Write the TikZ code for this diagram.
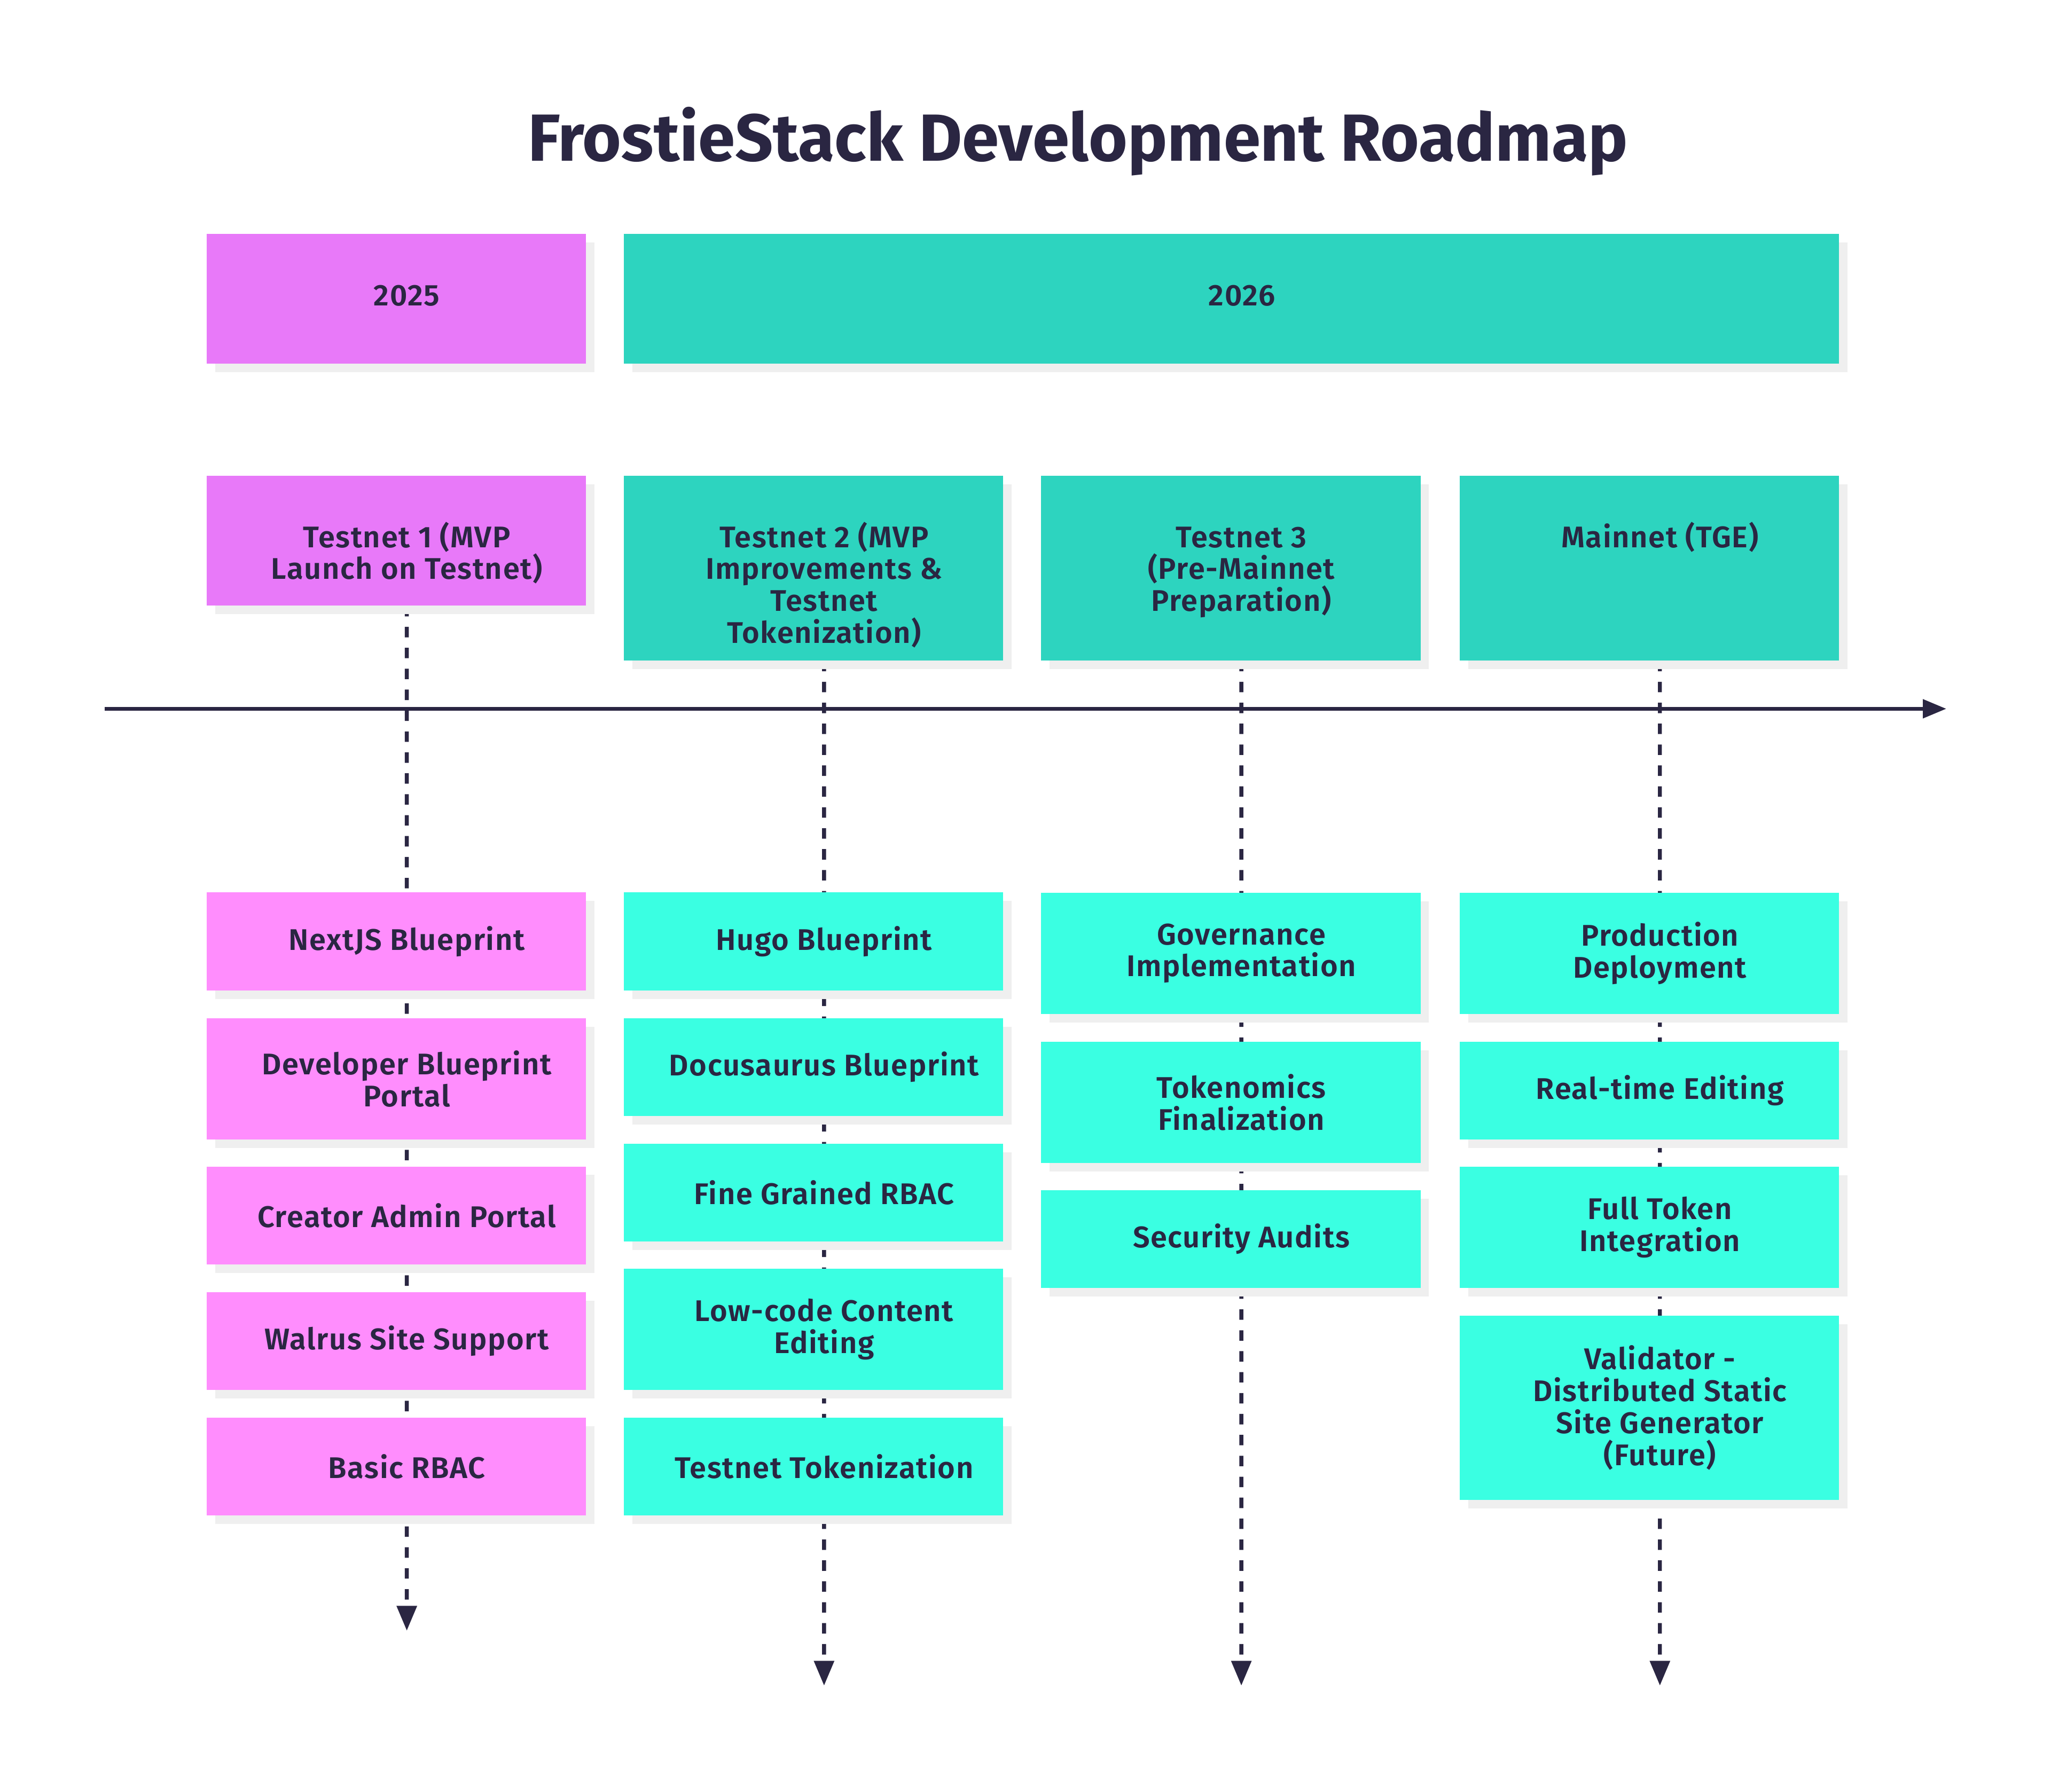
\documentclass[tikz,border=0pt]{standalone}
\usepackage{fontspec}
\setmainfont{Fira Sans}[BoldFont={Fira Sans SemiBold}]
\newfontfamily\titlefont{Fira Sans}[UprightFont={* Bold}]
\usepackage{tikz}
\usetikzlibrary{shapes,arrows.meta,backgrounds,%
positioning,calc,shadows%
}

\definecolor{ink}{HTML}{2A2642}
\definecolor{yearpink}{HTML}{E879F9}
\definecolor{yearteal}{HTML}{2DD4BF}
\definecolor{evpink}{HTML}{FF8DFD}
\definecolor{evcyan}{HTML}{3AFFE2}
\definecolor{shade}{HTML}{EFEFEF}

\tikzset{
  box/.style={rectangle,inner sep=0pt,minimum width=5.8cm,
    general shadow={fill=shade,shadow xshift=0.13cm,shadow yshift=-0.13cm}},
  txt/.style={font=\bfseries\addfontfeatures{LetterSpace=3}\fontsize{13}{13.9}\selectfont,
    text=ink,align=center,inner sep=0pt},
  mid/.style={txt,xshift=0.16cm},
  yr/.style={txt,xshift=0.16cm,yshift=0.05cm},
  head/.style={txt,anchor=north,xshift=0.16cm,yshift=-0.7cm},
  tline/.style={ink,line width=0.06cm,dash pattern=on 0.16cm off 0.16cm,
    -{Triangle[length=0.38cm,width=0.3cm]}},
  axisline/.style={ink,line width=0.06cm,-{Triangle[length=0.36cm,width=0.28cm]}}
}

\begin{document}
\begin{tikzpicture}[x=0.02cm,y=-0.02cm]
  \useasboundingbox (0,0) rectangle (1568,1370);
  \node[font=\titlefont\fontsize{29}{34}\selectfont,text=ink] (title) at (824,108)
  {FrostieStack Development Roadmap};

  % years
  \node[box,fill=yearpink,minimum height=1.98cm,label={[yr]center:2025}]
  (y25) at (303,228.5) {};
  \node[box,fill=yearteal,minimum width=18.58cm,minimum height=1.98cm,label={[yr]center:2026}]
  (y26) at (941.5,228.5) {};

  % periods
  \node[box,fill=yearpink,minimum height=1.98cm,
  label={[head]north:Testnet 1 (MVP\\Launch on Testnet)}] (p1) at (303,413.5) {};
  \node[box,fill=yearteal,minimum height=2.82cm,
  label={[head]north:Testnet 2 (MVP\\Improvements \&\\Testnet\\Tokenization)}] (p2) at (622,434.5) {};
  \node[box,fill=yearteal,minimum height=2.82cm,
  label={[head]north:Testnet 3\vphantom{(}\\(Pre-Mainnet\\Preparation)}] (p3) at (941,434.5) {};
  \node[box,fill=yearteal,minimum height=2.82cm,
  label={[head]north:Mainnet (TGE)}] (p4) at (1261,434.5) {};

  % testnet 1 items
  \node[box,fill=evpink,minimum height=1.5cm,label={[mid]center:NextJS Blueprint}] (a1) at (303,720) {};
  \node[box,fill=evpink,minimum height=1.85cm,label={[mid]center:Developer Blueprint\\Portal}] (a2) at (303,825) {};
  \node[box,fill=evpink,minimum height=1.5cm,label={[mid]center:Creator Admin Portal}] (a3) at (303,929.5) {};
  \node[box,fill=evpink,minimum height=1.5cm,label={[mid]center:Walrus Site Support}] (a4) at (303,1025.5) {};
  \node[box,fill=evpink,minimum height=1.5cm,label={[mid]center:Basic RBAC}] (a5) at (303,1121.5) {};

  % testnet 2 items
  \node[box,fill=evcyan,minimum height=1.5cm,label={[mid]center:Hugo Blueprint}] (b1) at (622,720) {};
  \node[box,fill=evcyan,minimum height=1.5cm,label={[mid]center:Docusaurus Blueprint}] (b2) at (622,816) {};
  \node[box,fill=evcyan,minimum height=1.5cm,label={[mid]center:Fine Grained RBAC}] (b3) at (622,912) {};
  \node[box,fill=evcyan,minimum height=1.85cm,label={[mid]center:Low-code Content\\Editing}] (b4) at (622,1016.5) {};
  \node[box,fill=evcyan,minimum height=1.5cm,label={[mid]center:Testnet Tokenization}] (b5) at (622,1121.5) {};

  % testnet 3 items
  \node[box,fill=evcyan,minimum height=1.85cm,label={[mid]center:Governance\\Implementation}] (c1) at (941,729) {};
  \node[box,fill=evcyan,minimum height=1.85cm,label={[mid]center:Tokenomics\\Finalization}] (c2) at (941,843) {};
  \node[box,fill=evcyan,minimum height=1.5cm,label={[mid]center:Security Audits}] (c3) at (941,947.5) {};

  % mainnet items
  \node[box,fill=evcyan,minimum height=1.85cm,label={[mid]center:Production\\Deployment}] (d1) at (1261,729) {};
  \node[box,fill=evcyan,minimum height=1.5cm,label={[mid]center:Real-time Editing}] (d2) at (1261,834) {};
  \node[box,fill=evcyan,minimum height=1.85cm,label={[mid]center:Full Token\\Integration}] (d3) at (1261,938.5) {};
  \node[box,fill=evcyan,minimum height=2.82cm,
  label={[mid]center:Validator -\\Distributed Static\\Site Generator\\(Future)}] (d4) at (1261,1076.5) {};

  % time axis and period lines
  \coordinate (ax0) at (80,542);
  \coordinate (ax1) at (1488,542);
  \coordinate (e1) at (311,1247);
  \coordinate (e2) at (630,1289);
  \coordinate (e3) at (949,1289);
  \coordinate (e4) at (1269,1289);
  \begin{scope}[on background layer]
    \draw[axisline] (ax0) -- (ax1);
    \draw[tline] ([xshift=0.16cm]p1.south) -- (e1);
    \draw[tline] ([xshift=0.16cm]p2.south) -- (e2);
    \draw[tline] ([xshift=0.16cm]p3.south) -- (e3);
    \draw[tline] ([xshift=0.16cm]p4.south) -- (e4);
  \end{scope}
\end{tikzpicture}
\end{document}
